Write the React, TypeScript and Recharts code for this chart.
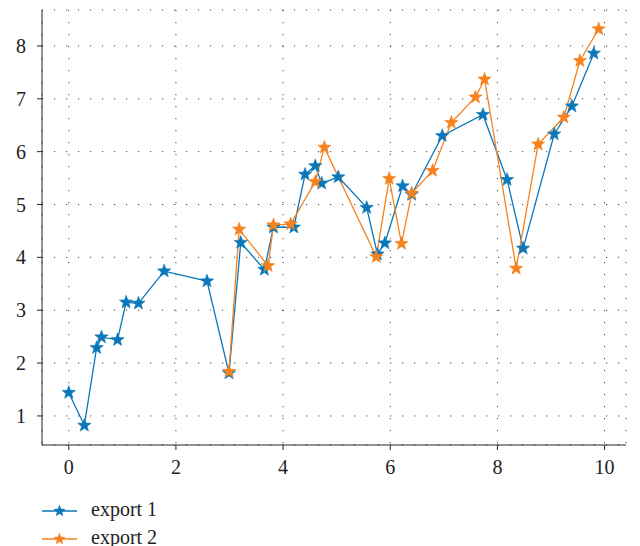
import { LineChart, Line, XAxis, YAxis, CartesianGrid } from "recharts";

// export 1 (blue)
const x1 = [0, 0.29, 0.52, 0.61, 0.91, 1.07, 1.3, 1.78, 2.58, 2.99, 3.21, 3.65, 3.82, 4.2, 4.41, 4.6, 4.72, 5.03, 5.56, 5.76, 5.9, 6.23, 6.4, 6.97, 7.73, 8.18, 8.48, 9.06, 9.39, 9.8];
const y1 = [1.44, 0.82, 2.29, 2.49, 2.44, 3.15, 3.13, 3.74, 3.55, 1.81, 4.28, 3.77, 4.57, 4.57, 5.57, 5.73, 5.4, 5.52, 4.94, 4.06, 4.27, 5.35, 5.19, 6.3, 6.7, 5.47, 4.17, 6.33, 6.86, 7.86];

// export 2 (orange)
const x2 = [2.99, 3.18, 3.72, 3.82, 4.14, 4.6, 4.77, 5.74, 5.98, 6.21, 6.4, 6.79, 7.14, 7.59, 7.76, 8.35, 8.76, 9.24, 9.54, 9.89];
const y2 = [1.84, 4.53, 3.84, 4.61, 4.63, 5.43, 6.08, 4.01, 5.49, 4.26, 5.21, 5.64, 6.55, 7.03, 7.37, 3.79, 6.14, 6.65, 7.72, 8.32];

const xTicks = [0, 2, 4, 6, 8, 10];
const yTicks = [1, 2, 3, 4, 5, 6, 7, 8];
const xDomain = [-0.5, 10.4];
const yDomain = [0.45, 8.68];

const BLUE = "#0a77b8";
const ORANGE = "#f5821f";
const FONT = "'Liberation Serif', 'DejaVu Serif', serif";

const data1 = x1.map((x, i) => ({ x, y: y1[i] }));
const data2 = x2.map((x, i) => ({ x, y: y2[i] }));

const starPoints = (cx: number, cy: number, R = 7, r = 2.9) => {
  const pts: string[] = [];
  for (let k = 0; k < 10; k++) {
    const rad = k % 2 === 0 ? R : r;
    const a = -Math.PI / 2 + (k * Math.PI) / 5;
    pts.push(`${cx + rad * Math.cos(a)},${cy + rad * Math.sin(a)}`);
  }
  return pts.join(" ");
};

const starDot = (color: string) => (props: any) => {
  const { cx, cy, index } = props;
  if (cx == null || cy == null) return <g key={index} />;
  return <polygon key={index} points={starPoints(cx, cy)} fill={color} stroke={color} strokeWidth={0.6} />;
};

const XTick = (props: any) => {
  const { x, y, payload } = props;
  return (
    <text x={x} y={y + 14} textAnchor="middle" fontFamily={FONT} fontSize={20} fill="#222">
      {payload.value}
    </text>
  );
};

const YTick = (props: any) => {
  const { x, y, payload } = props;
  return (
    <text x={x} y={y + 7} textAnchor="end" fontFamily={FONT} fontSize={20} fill="#222">
      {payload.value}
    </text>
  );
};

const legendItems = [
  { color: BLUE, label: "export 1", y: 511 },
  { color: ORANGE, label: "export 2", y: 539 },
];

export default function App() {
  return (
    <div style={{ position: "absolute", left: 0, top: 0, width: 640, height: 546, background: "#fff" }}>
      <LineChart width={640} height={546} margin={{ top: 10, right: 14, left: 0, bottom: 61 }}>
        <CartesianGrid stroke="#444" strokeDasharray="1.2 10.8" strokeWidth={1} />
        <XAxis
          dataKey="x"
          type="number"
          domain={xDomain}
          ticks={xTicks}
          allowDataOverflow
          height={40}
          stroke="#262626"
          tickSize={5}
          tickMargin={10}
          tick={<XTick />}
        />
        <XAxis xAxisId="top" orientation="top" type="number" domain={xDomain} ticks={xTicks} height={0} tick={false} tickLine={false} stroke="#777" />
        <YAxis
          dataKey="y"
          type="number"
          domain={yDomain}
          ticks={yTicks}
          allowDataOverflow
          width={42}
          stroke="#262626"
          tickSize={5}
          tickMargin={11}
          tick={<YTick />}
        />
        <YAxis yAxisId="right" orientation="right" type="number" domain={yDomain} ticks={yTicks} width={0} tick={false} tickLine={false} stroke="#777" />
        <Line
          data={data1}
          dataKey="y"
          type="linear"
          stroke={BLUE}
          strokeWidth={1.3}
          dot={starDot(BLUE)}
          activeDot={false}
          isAnimationActive={false}
        />
        <Line
          data={data2}
          dataKey="y"
          type="linear"
          stroke={ORANGE}
          strokeWidth={1.3}
          dot={starDot(ORANGE)}
          activeDot={false}
          isAnimationActive={false}
        />
      </LineChart>
      <svg width={640} height={546} style={{ position: "absolute", left: 0, top: 0, pointerEvents: "none" }}>
        {legendItems.map((it) => (
          <g key={it.label}>
            <line x1={42} y1={it.y} x2={77} y2={it.y} stroke={it.color} strokeWidth={1.5} />
            <polygon points={starPoints(59.5, it.y, 6.5, 2.7)} fill={it.color} />
            <text x={91} y={it.y + 4.5} fontFamily={FONT} fontSize={20} fill="#222">
              {it.label}
            </text>
          </g>
        ))}
      </svg>
    </div>
  );
}
